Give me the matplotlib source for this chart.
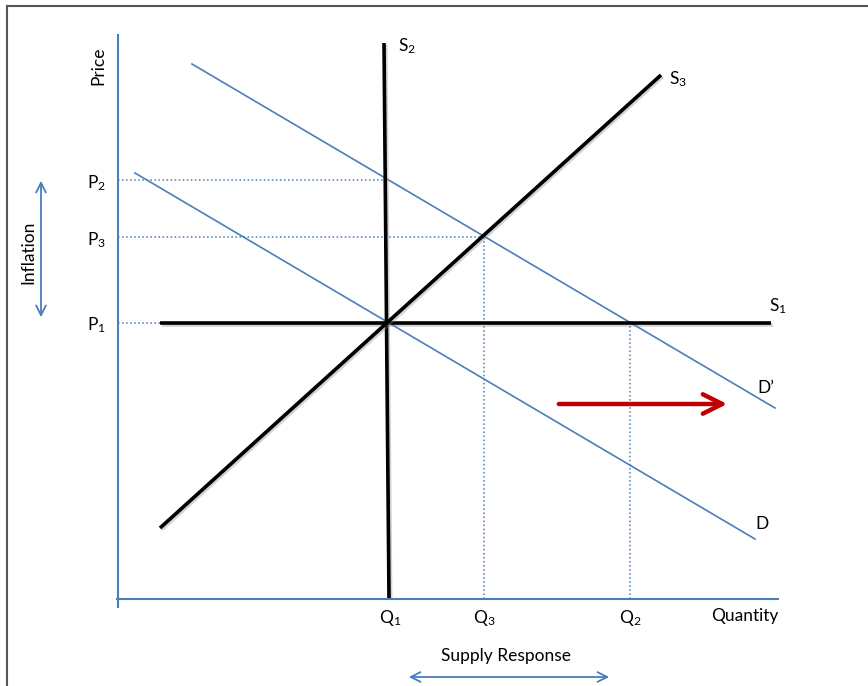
import matplotlib
matplotlib.use("Agg")
import matplotlib.pyplot as plt
import matplotlib.patheffects as pe
from matplotlib.lines import Line2D

plt.rcParams['font.family'] = ['Lato', 'DejaVu Sans']
plt.rcParams['mathtext.default'] = 'regular'

# price / quantity levels (origin at the axis corner)
P1, P3, P2 = 276, 362, 419
Q1, Q3, Q2 = 270, 366, 512

# curves: [x0, x1], [y0, y1]
S1_x, S1_y = [42, 653], [P1, P1]
S2_x, S2_y = [266, 271], [556, 1]
S3_x, S3_y = [42, 543], [71, 524]
D_x, D_y = [17, 637], [426, 60]
Dp_x, Dp_y = [74, 657], [535, 191]

blue = '#4A7EBB'
red = '#C00000'

fig = plt.figure(figsize=(8.68, 6.86), dpi=100)
ax = fig.add_axes([0, 0, 1, 1])
ax.set_xlim(-118, 750)
ax.set_ylim(-87, 599)
ax.axis('off')

# frame around the picture
fig.add_artist(Line2D([7/868, 7/868], [0, 1-6/686], color='#555555', lw=1.5))
fig.add_artist(Line2D([7/868, 1], [1-6/686, 1-6/686], color='#555555', lw=1.5))

# axes
ax.plot([0, 0], [-8, 564], color=blue, lw=1.5)
ax.plot([-1, 660], [0, 0], color=blue, lw=1.5)

# dotted guides
ax.plot([0, S2_x[0] + 1], [P2, P2], color=blue, lw=1.1, ls=':')
ax.plot([0, Q3], [P3, P3], color=blue, lw=1.1, ls=':')
ax.plot([0, Q1], [P1, P1], color=blue, lw=1.1, ls=':')
ax.plot([Q3, Q3], [0, P3], color=blue, lw=1.1, ls=':')
ax.plot([Q2, Q2], [0, P1], color=blue, lw=1.1, ls=':')

# demand curves
ax.plot(D_x, D_y, color=blue, lw=1.2)
ax.plot(Dp_x, Dp_y, color=blue, lw=1.2)

# supply curves
shadow = [pe.SimpleLineShadow(offset=(1.2, -1.2), shadow_color='gray', alpha=0.35), pe.Normal()]
for xs, ys in [(S1_x, S1_y), (S2_x, S2_y), (S3_x, S3_y)]:
    ax.plot(xs, ys, color='black', lw=2.6, solid_capstyle='butt', path_effects=shadow)

# demand shift arrow
ax.annotate('', xy=(612, 195), xytext=(438, 195),
            arrowprops=dict(arrowstyle='->,head_length=1.4,head_width=0.7', color=red, lw=3.2))

# inflation and supply response arrows
ax.annotate('', xy=(-77, 421), xytext=(-77, 279),
            arrowprops=dict(arrowstyle='<->,head_length=0.7,head_width=0.35', color=blue, lw=1.3))
ax.annotate('', xy=(288, -78), xytext=(494, -78),
            arrowprops=dict(arrowstyle='<->,head_length=0.7,head_width=0.35', color=blue, lw=1.3))

fs = 12.5
ax.text(-20, 533, 'Price', rotation=90, ha='center', va='center', fontsize=fs)
ax.text(-90, 347, 'Inflation', rotation=90, ha='center', va='center', fontsize=fs)
ax.text(-22, 416, 'P$_2$', ha='center', va='center', fontsize=fs)
ax.text(-22, 359, 'P$_3$', ha='center', va='center', fontsize=fs)
ax.text(-22, 274, 'P$_1$', ha='center', va='center', fontsize=fs)
ax.text(Q1 + 2, -19, 'Q$_1$', ha='center', va='center', fontsize=fs)
ax.text(Q3, -19, 'Q$_3$', ha='center', va='center', fontsize=fs)
ax.text(Q2, -19, 'Q$_2$', ha='center', va='center', fontsize=fs)
ax.text(627, -17, 'Quantity', ha='center', va='center', fontsize=fs)
ax.text(388, -57, 'Supply Response', ha='center', va='center', fontsize=fs)
ax.text(289, 553, 'S$_2$', ha='center', va='center', fontsize=fs)
ax.text(560, 520, 'S$_3$', ha='center', va='center', fontsize=fs)
ax.text(660, 293, 'S$_1$', ha='center', va='center', fontsize=fs)
ax.text(648, 211, 'D\u2019', ha='center', va='center', fontsize=fs)
ax.text(644, 75, 'D', ha='center', va='center', fontsize=fs)

fig.savefig('out.png', dpi=100)
